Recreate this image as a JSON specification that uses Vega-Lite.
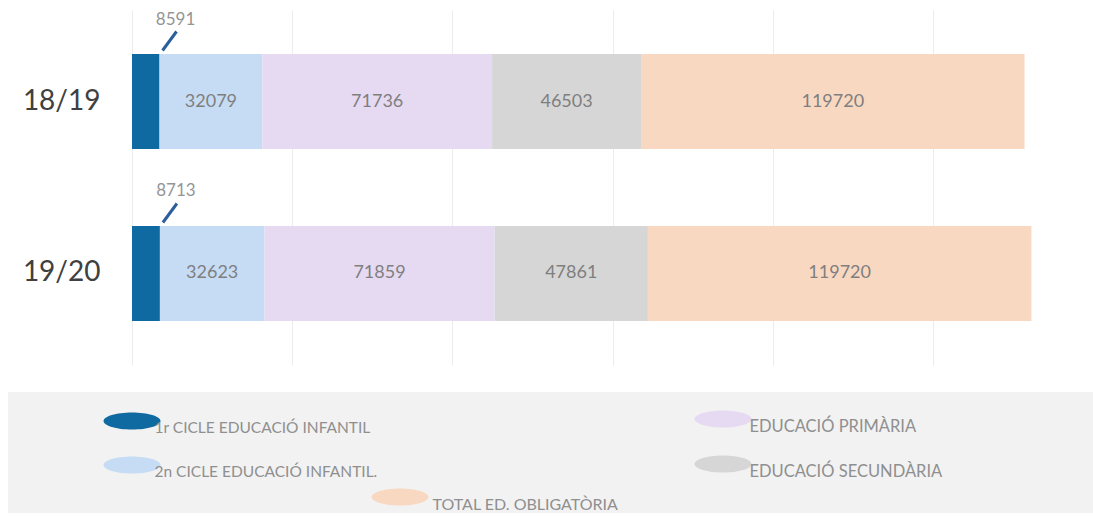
{
  "$schema": "https://vega.github.io/schema/vega-lite/v6.json",
  "padding": {"left": 8, "top": 10, "right": 0, "bottom": 5},
  "spacing": 27,
  "config": {"view": {"stroke": null}, "font": "Lato"},
  "vconcat": [
    {
      "width": 1085,
      "height": 355,
      "data": {
        "values": [
          {"year": "18/19", "cat": "1r CICLE EDUCACIÓ INFANTIL", "value": 8591},
          {"year": "18/19", "cat": "2n CICLE EDUCACIÓ INFANTIL.", "value": 32079},
          {"year": "18/19", "cat": "EDUCACIÓ PRIMÀRIA", "value": 71736},
          {"year": "18/19", "cat": "EDUCACIÓ SECUNDÀRIA", "value": 46503},
          {"year": "18/19", "cat": "TOTAL ED. OBLIGATÒRIA", "value": 119720},
          {"year": "19/20", "cat": "1r CICLE EDUCACIÓ INFANTIL", "value": 8713},
          {"year": "19/20", "cat": "2n CICLE EDUCACIÓ INFANTIL.", "value": 32623},
          {"year": "19/20", "cat": "EDUCACIÓ PRIMÀRIA", "value": 71859},
          {"year": "19/20", "cat": "EDUCACIÓ SECUNDÀRIA", "value": 47861},
          {"year": "19/20", "cat": "TOTAL ED. OBLIGATÒRIA", "value": 119720}
        ]
      },
      "transform": [
        {"stack": "value", "groupby": ["year"], "sort": [{"field": "cat", "order": "ascending"}], "as": ["x0", "x1"]}
      ],
      "encoding": {
        "y": {
          "field": "year", "type": "nominal",
          "scale": {"domain": ["18/19", "19/20"], "paddingInner": 0.4477, "paddingOuter": 0.256},
          "axis": {"title": null, "offset": -124, "domain": false, "ticks": false, "labelPadding": 32, "labelFontSize": 28, "labelFont": "Lato", "labelColor": "#404040"}
        }
      },
      "layer": [
        {
          "transform": [{"filter": {"field": "cat", "oneOf": ["1r CICLE EDUCACIÓ INFANTIL", "2n CICLE EDUCACIÓ INFANTIL."]}}],
          "mark": {"type": "bar"},
          "encoding": {
            "x": {"field": "x0", "type": "quantitative", "scale": {"domain": [-38710, 300000], "nice": false, "zero": false},
                  "axis": {"title": null, "labels": false, "ticks": false, "domain": false, "grid": true, "gridColor": "#ececec", "values": [0, 50000, 100000, 150000, 200000, 250000, 300000]}},
            "x2": {"field": "x1"},
            "color": {
              "field": "cat", "type": "nominal",
              "scale": {"domain": ["1r CICLE EDUCACIÓ INFANTIL", "2n CICLE EDUCACIÓ INFANTIL."], "range": ["#0e6aa0", "#c6dcf5"]},
              "legend": {"orient": "none", "legendX": 95.5, "legendY": 382.5, "title": null, "direction": "vertical",
                         "symbolType": "M-1,0A1,0.3,0,1,0,1,0A1,0.3,0,1,0,-1,0Z", "symbolSize": 3249, "symbolStrokeWidth": 0,
                         "labelFont": "Lato", "labelFontSize": 15.5, "labelColor": "#8f8f8f", "labelBaseline": "top", "labelOffset": -6, "labelLimit": 400, "rowPadding": -15}
            }
          }
        },
        {
          "transform": [{"filter": {"field": "cat", "oneOf": ["EDUCACIÓ PRIMÀRIA", "EDUCACIÓ SECUNDÀRIA"]}}],
          "mark": {"type": "bar"},
          "encoding": {
            "x": {"field": "x0", "type": "quantitative"},
            "x2": {"field": "x1"},
            "fill": {
              "field": "cat", "type": "nominal",
              "scale": {"domain": ["EDUCACIÓ PRIMÀRIA", "EDUCACIÓ SECUNDÀRIA"], "range": ["#e6daf3", "#d6d6d6"]},
              "legend": {"orient": "none", "legendX": 686.5, "legendY": 380.5, "title": null, "direction": "vertical",
                         "symbolType": "M-1,0A1,0.3,0,1,0,1,0A1,0.3,0,1,0,-1,0Z", "symbolSize": 3249, "symbolStrokeWidth": 0,
                         "labelFont": "Lato", "labelFontSize": 16.5, "labelColor": "#8f8f8f", "labelBaseline": "top", "labelOffset": -2, "labelLimit": 400, "rowPadding": -12,
                         "encode": {"symbols": {"update": {"fill": {"signal": "datum.value === 'EDUCACIÓ PRIMÀRIA' ? '#d6b3ef' : '#d6d6d6'"}}}}}
            }
          }
        },
        {
          "transform": [{"filter": {"field": "cat", "equal": "TOTAL ED. OBLIGATÒRIA"}}],
          "mark": {"type": "bar", "fill": "#f9d8c2", "strokeWidth": 0},
          "encoding": {
            "x": {"field": "x0", "type": "quantitative"},
            "x2": {"field": "x1"},
            "stroke": {
              "field": "cat", "type": "nominal",
              "scale": {"domain": ["TOTAL ED. OBLIGATÒRIA"], "range": ["#f9d8c2"]},
              "legend": {"orient": "none", "legendX": 363.5, "legendY": 458.5, "title": null,
                         "symbolType": "M-1,0A1,0.3,0,1,0,1,0A1,0.3,0,1,0,-1,0Z", "symbolSize": 3249, "symbolStrokeWidth": 0, "symbolFillColor": "#f9d4b6",
                         "labelFont": "Lato", "labelFontSize": 16, "labelColor": "#8f8f8f", "labelBaseline": "top", "labelOffset": 4, "labelLimit": 400}
            }
          }
        },
        {
          "transform": [
            {"filter": {"not": {"field": "cat", "equal": "1r CICLE EDUCACIÓ INFANTIL"}}},
            {"fold": ["x0", "x1"], "as": ["edge", "pos"]},
            {"aggregate": [{"op": "mean", "field": "pos", "as": "mid"}], "groupby": ["year", "cat", "value"]}
          ],
          "mark": {"type": "text", "font": "Lato", "fontSize": 18, "color": "#7f7f7f", "align": "center", "baseline": "middle"},
          "encoding": {
            "x": {"field": "mid", "type": "quantitative"},
            "text": {"field": "value", "type": "quantitative", "format": "d"}
          }
        },
        {
          "transform": [{"filter": {"field": "cat", "equal": "1r CICLE EDUCACIÓ INFANTIL"}}],
          "mark": {"type": "text", "font": "Lato", "fontSize": 17, "color": "#959595", "align": "center", "baseline": "middle", "dx": 16, "dy": -82},
          "encoding": {
            "x": {"field": "x1", "type": "quantitative"},
            "text": {"field": "value", "type": "quantitative", "format": "d"}
          }
        },
        {
          "transform": [{"filter": {"field": "cat", "equal": "1r CICLE EDUCACIÓ INFANTIL"}}],
          "mark": {"type": "rule", "color": "#2c5e9e", "strokeWidth": 3, "xOffset": 3, "x2Offset": 17, "yOffset": -51, "y2Offset": -70},
          "encoding": {
            "x": {"field": "x1", "type": "quantitative"},
            "x2": {"field": "x1"},
            "y2": {"field": "year"}
          }
        }
      ]
    },
    {
      "width": 1085,
      "height": 121,
      "view": {"fill": "#f2f2f2", "stroke": null},
      "data": {"values": []},
      "mark": "point",
      "encoding": {}
    }
  ]
}
